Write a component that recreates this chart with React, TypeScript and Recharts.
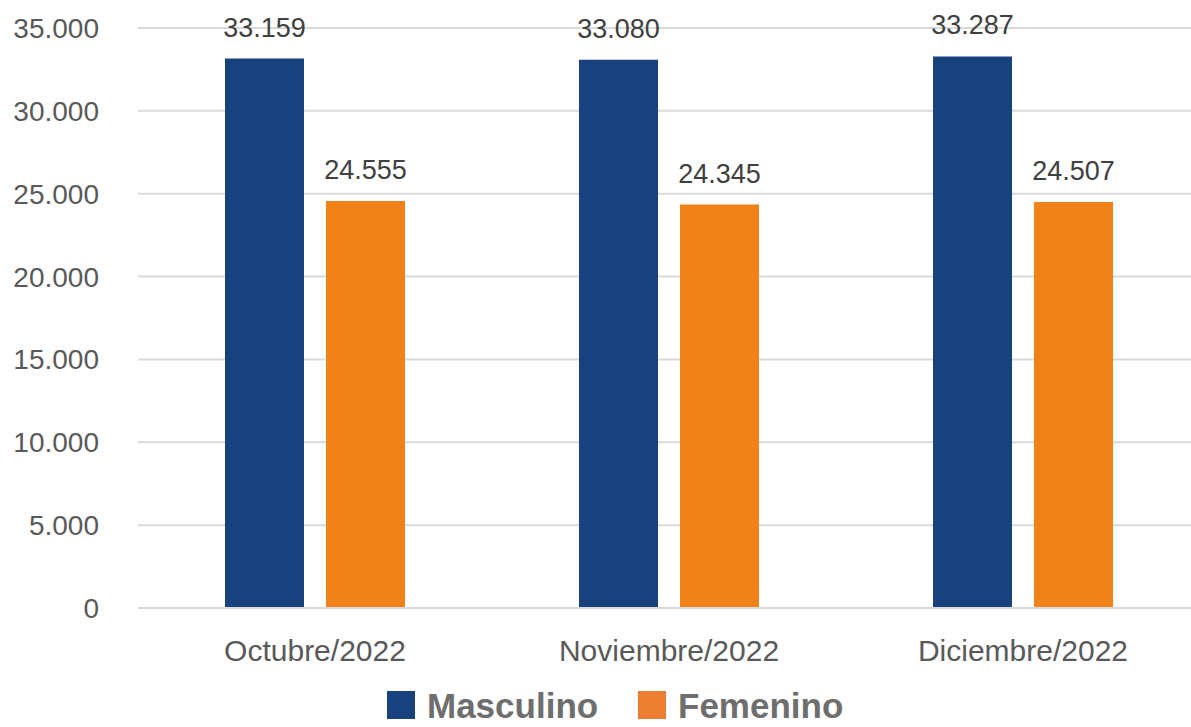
import React from 'react';
import { BarChart, Bar, XAxis, YAxis, CartesianGrid, Legend, LabelList } from 'recharts';

const months = ['Octubre/2022', 'Noviembre/2022', 'Diciembre/2022'];
const masculino = [33159, 33080, 33287];
const femenino = [24555, 24345, 24507];
const yTicks = [0, 5000, 10000, 15000, 20000, 25000, 30000, 35000];

const BLUE = '#17427E';
const ORANGE = '#EF8219';
const FONT = '"Liberation Sans", Arial, sans-serif';

const fmt = (n: number) => n.toString().replace(/\B(?=(\d{3})+(?!\d))/g, '.');

const chartData = months.map((m, i) => ({
  month: m,
  masculino: masculino[i],
  femenino: femenino[i],
}));

const legendItems = [
  { name: 'Masculino', color: BLUE, x: 387 },
  { name: 'Femenino', color: '#ED7D31', x: 638 },
];

// drawn as svg so the legend hugs the bottom edge without being clipped
const renderLegend = () => (
  <svg width={1191} height={36} style={{ display: 'block' }}>
    {legendItems.map((item) => (
      <g key={item.name}>
        <rect x={item.x} y={3} width={28} height={28} fill={item.color} />
        <text x={item.x + 40} y={30} fontSize={35} fontWeight="bold" fill="#6E6E6E" fontFamily={FONT}>
          {item.name}
        </text>
      </g>
    ))}
  </svg>
);

export default function App() {
  return (
    <div style={{ position: 'absolute', top: 0, left: 0, width: 1191, height: 727, overflow: 'hidden', background: '#fff' }}>
      <BarChart
        width={1200}
        height={727}
        data={chartData}
        margin={{ top: 28, right: 0, left: 0, bottom: 0 }}
        barSize={79}
        barGap={22}
      >
        <CartesianGrid vertical={false} stroke="#D9D9D9" strokeWidth={2} />
        <XAxis
          dataKey="month"
          height={119}
          axisLine={{ stroke: '#D9D9D9', strokeWidth: 2 }}
          tickLine={false}
          tickMargin={26}
          tick={{ fontSize: 30, fill: '#595959', fontFamily: FONT }}
        />
        <YAxis
          width={138}
          domain={[0, 35000]}
          ticks={yTicks}
          axisLine={false}
          tickLine={false}
          tickMargin={33}
          tickFormatter={fmt}
          tick={{ fontSize: 28, fill: '#595959', fontFamily: FONT }}
        />
        <Legend
          verticalAlign="middle"
          content={renderLegend}
          wrapperStyle={{ top: 688, left: 0, width: 1191 }}
        />
        <Bar dataKey="masculino" name="Masculino" fill={BLUE} isAnimationActive={false}>
          <LabelList dataKey="masculino" position="top" offset={22} formatter={fmt as any}
            style={{ fontSize: 27, fill: '#404040', fontFamily: FONT }} />
        </Bar>
        <Bar dataKey="femenino" name="Femenino" fill={ORANGE} isAnimationActive={false}>
          <LabelList dataKey="femenino" position="top" offset={22} formatter={fmt as any}
            style={{ fontSize: 27, fill: '#404040', fontFamily: FONT }} />
        </Bar>
      </BarChart>
    </div>
  );
}
